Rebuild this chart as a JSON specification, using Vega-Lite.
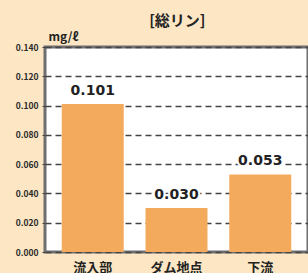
{
  "$schema": "https://vega.github.io/schema/vega-lite/v6.json",
  "width": 263,
  "height": 205,
  "autosize": {"type": "none"},
  "padding": {"left": 45, "top": 47, "right": 0, "bottom": 21},
  "background": "#fce6c4",
  "title": {
    "text": "[総リン]",
    "anchor": "start",
    "dx": 134,
    "offset": -14,
    "baseline": "bottom",
    "font": "Noto Sans CJK JP",
    "fontSize": 15,
    "fontWeight": "bold",
    "color": "#222222"
  },
  "config": {
    "view": {"fill": "#ffffff", "stroke": "#6f6f6f", "strokeWidth": 3},
    "font": "Noto Sans CJK JP"
  },
  "data": {
    "values": [
      {"site": "流入部", "value": 0.101},
      {"site": "ダム地点", "value": 0.030},
      {"site": "下流", "value": 0.053}
    ]
  },
  "encoding": {
    "x": {
      "field": "site",
      "type": "nominal",
      "sort": null,
      "scale": {"paddingInner": 0.26, "paddingOuter": 0.2},
      "axis": {
        "title": null,
        "labelAngle": 0,
        "labelFontSize": 13,
        "labelFontWeight": "bold",
        "labelColor": "#222222",
        "labelPadding": 9,
        "ticks": false,
        "domain": false
      }
    },
    "y": {
      "field": "value",
      "type": "quantitative",
      "scale": {"domain": [0, 0.14], "nice": false},
      "axis": {
        "values": [0, 0.02, 0.04, 0.06, 0.08, 0.1, 0.12, 0.14],
        "format": ".3f",
        "title": "mg/ℓ",
        "titleAngle": 0,
        "titleX": 3,
        "titleY": -4,
        "titleAlign": "left",
        "titleBaseline": "bottom",
        "titleFontSize": 12,
        "titleFontWeight": "bold",
        "titleColor": "#222222",
        "labelFontSize": 8.5,
        "labelFontWeight": "bold",
        "labelColor": "#2a2a2a",
        "labelPadding": 4,
        "tickSize": 3,
        "tickColor": "#444444",
        "domain": false,
        "grid": true,
        "gridColor": "#444444",
        "gridDash": [6, 4],
        "gridWidth": 1.4
      }
    }
  },
  "layer": [
    {"mark": {"type": "bar", "color": "#f4aa5c"}},
    {
      "mark": {"type": "text", "dy": -13, "fontSize": 14, "fontWeight": "bold", "font": "DejaVu Sans", "color": "#ffffff", "stroke": "#ffffff", "strokeWidth": 4},
      "encoding": {"text": {"field": "value", "type": "quantitative", "format": ".3f"}}
    },
    {
      "mark": {"type": "text", "dy": -13, "fontSize": 14, "fontWeight": "bold", "font": "DejaVu Sans", "color": "#222222"},
      "encoding": {"text": {"field": "value", "type": "quantitative", "format": ".3f"}}
    }
  ]
}
